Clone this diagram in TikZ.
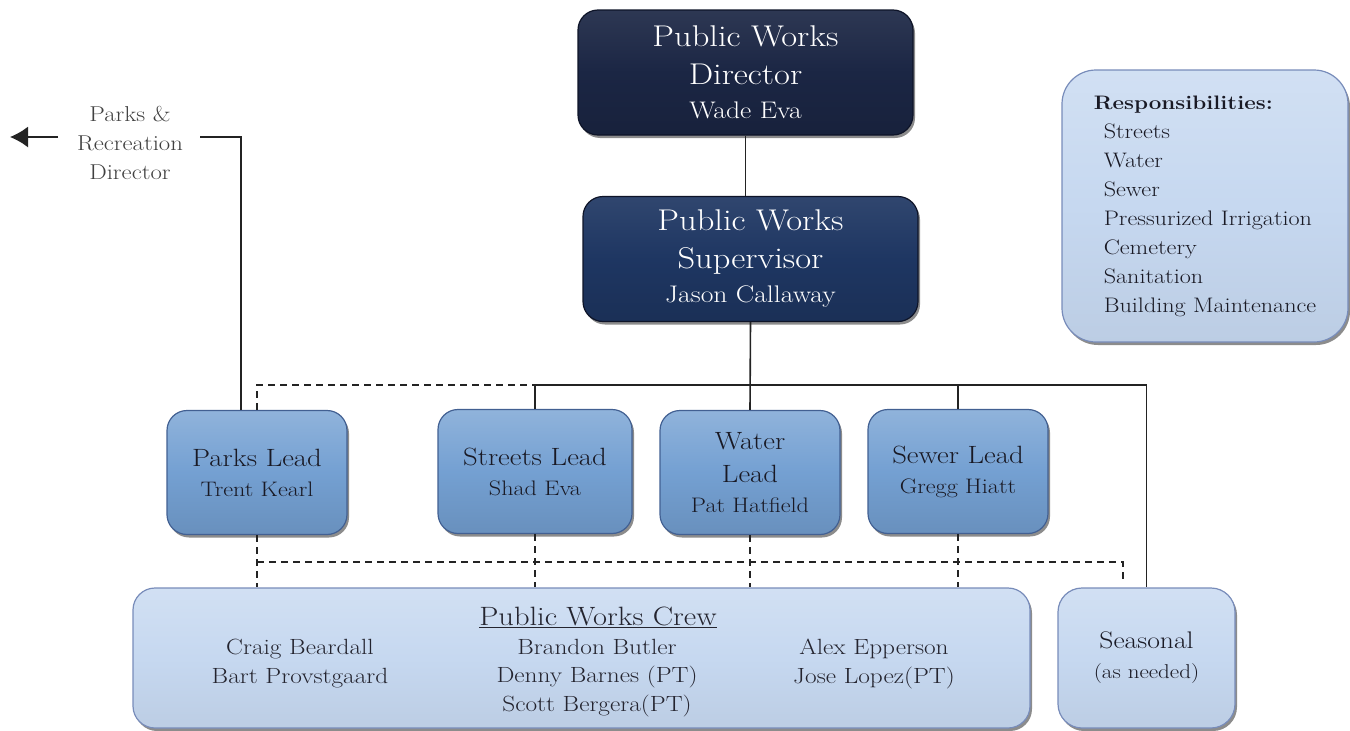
\documentclass[tikz,border=0pt]{standalone}
\usepackage{fontspec}
\setmainfont{Latin Modern Roman}[FakeStretch=1.15]
\usepackage{tikz}
\usetikzlibrary{shadows,arrows.meta}

\definecolor{navyD}{RGB}{27,38,68}
\definecolor{navyS}{RGB}{30,54,98}
\definecolor{navyE}{RGB}{14,20,40}
\definecolor{leadC}{RGB}{116,160,210}
\definecolor{leadE}{RGB}{66,96,146}
\definecolor{hellC}{RGB}{198,216,240}
\definecolor{hellE}{RGB}{120,140,186}
\definecolor{lineC}{RGB}{35,35,35}
\definecolor{textC}{RGB}{25,25,36}

\newcommand\fTitel{\fontsize{30}{38}\selectfont}
\newcommand\fChefName{\fontsize{24}{30}\selectfont}
\newcommand\fLead{\fontsize{25}{33}\selectfont}
\newcommand\fLeadName{\fontsize{21}{28}\selectfont}
\newcommand\fCrew{\fontsize{22}{28.5}\selectfont}
\newcommand\fCrewTitel{\fontsize{26.5}{30}\selectfont}
\newcommand\fSeite{\fontsize{21.5}{29}\selectfont}

\tikzset{
  schatten/.style={drop shadow={shadow xshift=2pt,shadow yshift=-3pt,opacity=.45,fill=black}},
  chef/.style={schatten, rectangle, rounded corners=20pt, draw=navyE, line width=1.2pt,
    top color=#1!92!white, bottom color=#1!88!black, middle color=#1,
    text=white, align=center, minimum width=335pt, minimum height=125pt, inner sep=0pt, font=\fTitel},
  lead/.style={schatten, rectangle, rounded corners=20pt, draw=leadE, line width=1.2pt,
    top color=leadC!80!white, bottom color=leadC!90!black, middle color=leadC,
    text=textC, align=center, minimum width=180pt, minimum height=124pt, inner sep=0pt, font=\fLead},
  hell/.style={schatten, rectangle, rounded corners=22pt, draw=hellE, line width=1.2pt,
    top color=hellC!80!white, bottom color=hellC!95!black, middle color=hellC,
    text=textC, inner sep=0pt},
  crewtxt/.style={inner sep=0pt, align=center, text=textC!95!white, font=\fCrew},
  strich/.style={line width=1.6pt, draw=lineC},
  gestr/.style={line width=1.6pt, draw=lineC, dash pattern=on 7pt off 5pt},
}

\begin{document}
\begin{tikzpicture}[x=1pt,y=-1pt]
\fill[white] (0,0) rectangle (1350,731);
\useasboundingbox (0,0) rectangle (1350,731);

% obere Ebene
\node[chef=navyD] (dir) at (745.5,72.5) {Public Works\\ Director\\[-4pt] {\fChefName Wade Eva}};
\node[chef=navyS] (sup) at (750.5,259) {Public Works\\ Supervisor\\[-4pt] {\fChefName Jason Callaway}};

% Leads
\node[lead] (parks) at (257,472.5) {Parks Lead\\[-3pt] {\fLeadName Trent Kearl}};
\node[lead, minimum width=194pt] (streets) at (535,471.5) {Streets Lead\\[-3pt] {\fLeadName Shad Eva}};
\node[lead] (water) at (750,472.5) {Water\\ Lead\\[-3pt] {\fLeadName Pat Hatfield}};
\node[lead] (sewer) at (958,471.5) {Sewer Lead\\[-3pt] {\fLeadName Gregg Hiatt}};

% untere Ebene
\node[hell, minimum width=897pt, minimum height=140pt] (crew) at (581.5,658) {};
\node[crewtxt, font=\fCrewTitel] (crewT) at (598,617) {\underline{Public Works Crew}};
\node[crewtxt, anchor=north] (crewA) at (300,639) {Craig Beardall\\ Bart Provstgaard};
\node[crewtxt, anchor=north] (crewB) at (597,639) {Brandon Butler\\ Denny Barnes (PT)\\ Scott Bergera(PT)};
\node[crewtxt, anchor=north] (crewC) at (874,639) {Alex Epperson\\ Jose Lopez(PT)};
\node[hell, rounded corners=24pt, minimum width=177pt, minimum height=140pt, align=center, font=\fontsize{24}{30}\selectfont] (seas) at (1146.5,658) {Seasonal\\ {\fontsize{20}{25}\selectfont (as needed)}};

% Aufgaben
\node[hell, rounded corners=34pt, minimum width=286pt, minimum height=272pt, align=left, font=\fontsize{21}{29}\selectfont] (resp) at (1205,206)
  {{\fontsize{19.5}{29}\selectfont\bfseries Responsibilities:}\\ \hspace*{10pt}Streets\\ \hspace*{10pt}Water\\ \hspace*{10pt}Sewer\\
   \hspace*{10pt}Pressurized Irrigation\\ \hspace*{10pt}Cemetery\\ \hspace*{10pt}Sanitation\\ \hspace*{10pt}Building Maintenance};

% Parks & Recreation
\node[inner sep=0pt, align=center, text=black!75, font=\fSeite] (prd) at (130,143) {Parks \&\\ Recreation\\ Director};
\coordinate (prdR) at (200,137); % rechtes Ende
\coordinate (prdL) at (58,137);  % linkes Ende
\coordinate (prdTip) at (10,137); % Pfeilspitze
\draw[strich] ([xshift=-16pt]parks.north) |- (prdR);
\draw[strich, -{Latex[length=18pt,width=21pt]}] (prdL) -- (prdTip);

% durchgezogene Linien
\coordinate (bus) at (748,385);
\draw[strich] (dir.south) -- (dir.south |- sup.north);
\draw[strich] (sup.south) -- (water.north);
\draw[strich] (streets.north) |- (bus) -| (seas.north);
\draw[strich] (sewer.north) -- (sewer.north |- bus);

% gestrichelte Linien
\draw[gestr] (parks.north) |- (streets.north |- bus);
\coordinate (dL) at (257,562);
\coordinate (dR) at (1123,562);
\coordinate (dE) at (1123,581);
\draw[gestr] (dL) -- (dR) -- (dE);
\draw[gestr] (parks.south) -- (parks.south |- crew.north);
\draw[gestr] (streets.south) -- (streets.south |- crew.north);
\draw[gestr] (water.south) -- (water.south |- crew.north);
\draw[gestr] (sewer.south) -- (sewer.south |- crew.north);
\end{tikzpicture}
\end{document}
